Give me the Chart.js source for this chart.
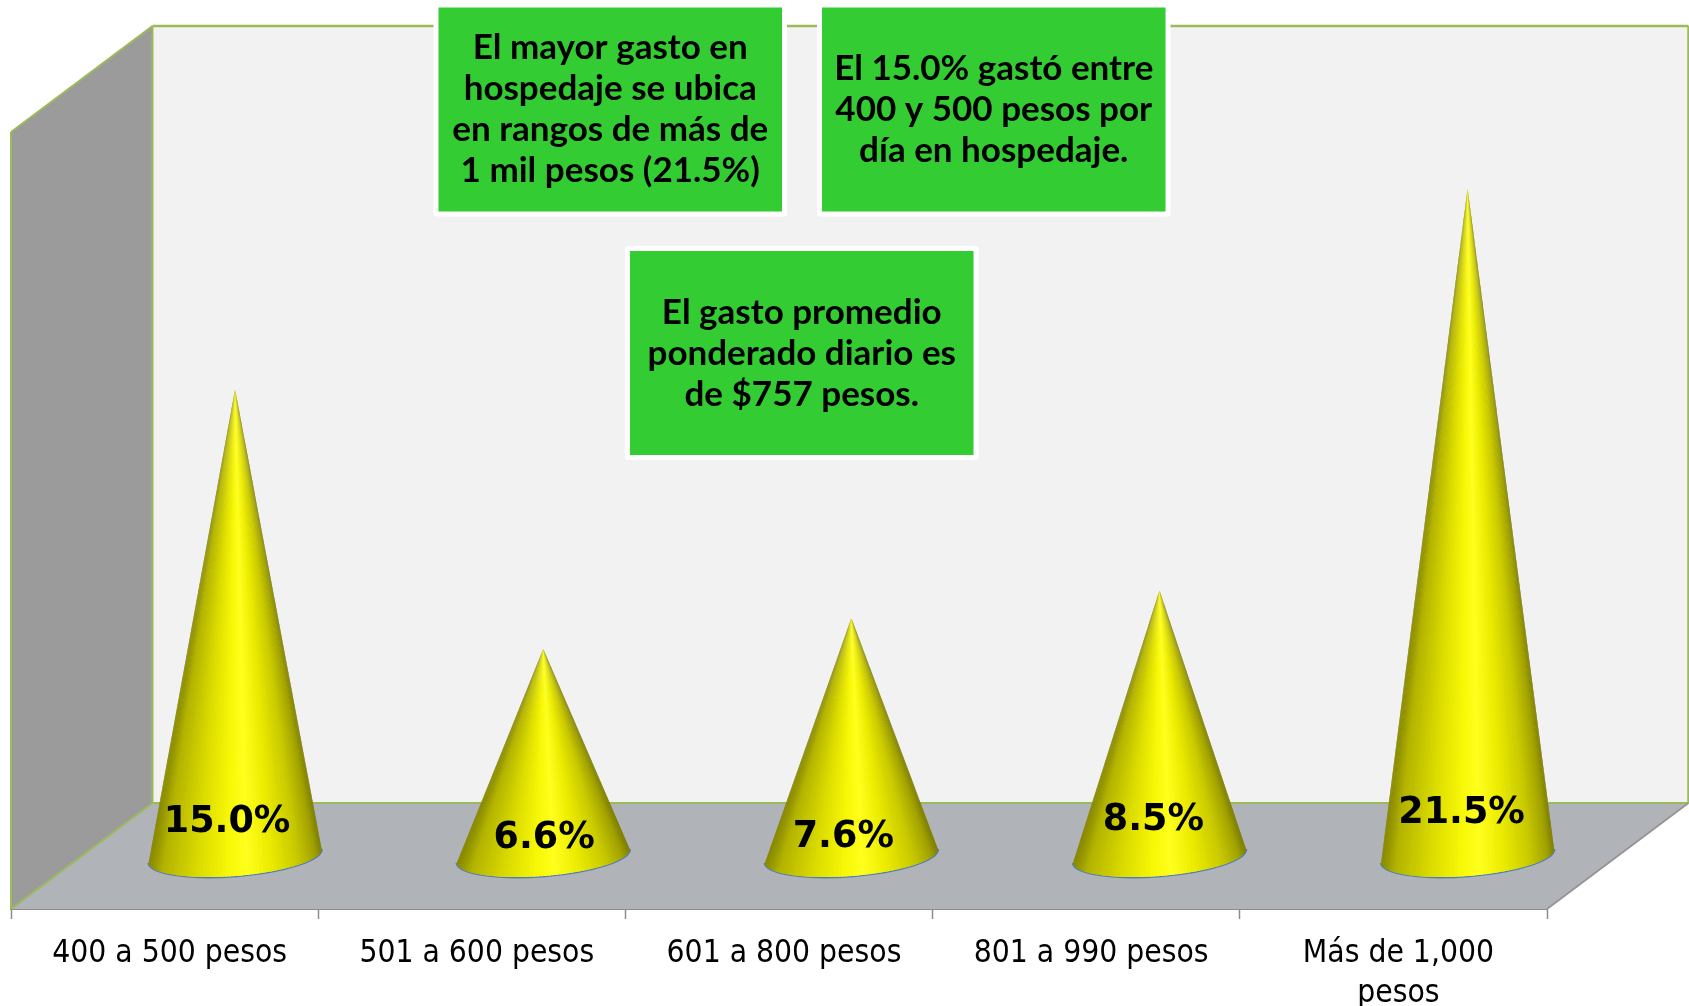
<!DOCTYPE html>
<html lang="es">

<head>
  <meta charset="UTF-8">
  <title>Gasto diario en hospedaje</title>
  <script src="https://cdn.jsdelivr.net/npm/chart.js"></script>
  <style>
    html, body { margin: 0; padding: 0; background: #fff; overflow: hidden; }
    canvas { display: block; }
  </style>
</head>

<body>
  <canvas id="conos" width="1689" height="1006"></canvas>

  <script>
    const categories = ['400 a 500 pesos', '501 a 600 pesos', '601 a 800 pesos', '801 a 990 pesos', ['Más de 1,000', 'pesos']];
    const values = [15.0, 6.6, 7.6, 8.5, 21.5];
    const notes = [
      ['El mayor gasto en', 'hospedaje se ubica', 'en rangos de más de', '1 mil pesos (21.5%)'],
      ['El 15.0% gastó entre', '400 y 500 pesos por', 'día en hospedaje.'],
      ['El gasto promedio', 'ponderado diario es', 'de $757 pesos.'],
    ];

    // 3D look: back plane is shifted from the front axis by this much
    const depthX = 141.5;
    const depthY = -106;
    const noteBoxes = [
      { x: 438.5, y: 7.5, w: 343.5, h: 204, firstLine: 47.5 },
      { x: 822, y: 7.5, w: 343.5, h: 204, firstLine: 68.5 },
      { x: 630, y: 251, w: 343.5, h: 204, firstLine: 313 },
    ];
    // data labels do not sit at a fixed place on the cones
    const labelShift = [[-8, -33], [1, -17], [-8, -18], [-6, -35], [-6, -42]];

    // cones sit mid depth, with a touch of perspective towards the right
    const coneX = (x) => 70 + x * 1.003;

    // shading across the cone, left edge to right edge
    const shade = [
      [0, [135, 135, 0]], [0.08, [180, 180, 0]], [0.28, [220, 220, 0]], [0.46, [248, 248, 8]],
      [0.56, [255, 255, 30]], [0.7, [235, 235, 0]], [0.86, [200, 200, 0]], [0.96, [160, 160, 0]], [1, [125, 125, 0]],
    ];

    function shadeAt(u) {
      for (let i = 1; i < shade.length; i++) {
        if (u <= shade[i][0]) {
          const a = shade[i - 1], b = shade[i];
          const k = (u - a[0]) / (b[0] - a[0]);
          const c = a[1].map((v, n) => Math.round(v + (b[1][n] - v) * k));
          return `rgb(${c[0]},${c[1]},${c[2]})`;
        }
      }
      return 'rgb(125,125,0)';
    }

    class ConeElement extends Chart.BarElement {
      draw(ctx) {
        const props = this.getProps(['x', 'y', 'base', 'width']);
        const cx = coneX(props.x);
        const cy = props.base + depthY / 2;
        // the tip fades out when it gets thin, so start it a little higher
        const topY = props.y + depthY / 2 - 3;
        const a = props.width / 2;
        const b = 20;
        const tilt = -0.08;
        const point = (t) => [
          cx + a * Math.cos(t) * Math.cos(tilt) - b * Math.sin(t) * Math.sin(tilt),
          cy + a * Math.cos(t) * Math.sin(tilt) + b * Math.sin(t) * Math.cos(tilt),
        ];

        ctx.save();
        // blue rim under the cone
        ctx.beginPath();
        ctx.ellipse(cx, cy, a + 0.5, b + 0.5, tilt, 0, Math.PI);
        ctx.strokeStyle = '#4f7fb5';
        ctx.lineWidth = 1.5;
        ctx.stroke();

        // cone body as thin slices running up to the tip
        const slices = 70;
        for (let i = 0; i < slices; i++) {
          const t0 = Math.PI - (i / slices) * Math.PI;
          const t1 = Math.PI - ((i + 1.6) / slices) * Math.PI;
          const p0 = point(t0);
          const p1 = point(Math.max(t1, 0));
          const u = (1 - Math.cos((i + 0.5) / slices * Math.PI)) / 2;
          ctx.beginPath();
          ctx.moveTo(cx, topY);
          ctx.lineTo(p0[0], p0[1]);
          ctx.lineTo(p1[0], p1[1]);
          ctx.closePath();
          ctx.fillStyle = shadeAt(u);
          ctx.fill();
        }
        ctx.restore();
      }
    }
    ConeElement.id = 'cone';
    ConeElement.defaults = Chart.BarElement.defaults;

    class ConeController extends Chart.BarController {}
    ConeController.id = 'cone';
    ConeController.defaults = { ...Chart.BarController.defaults, dataElementType: 'cone' };
    ConeController.overrides = Chart.BarController.overrides;

    Chart.register(ConeController, ConeElement);

    const walls = {
      id: 'walls',
      beforeDatasetsDraw(chart) {
        const { ctx, chartArea: { left, right, top, bottom } } = chart;
        const green = '#9bbb59';
        const poly = (pts, fill) => {
          ctx.beginPath();
          pts.forEach((p, i) => (i ? ctx.lineTo(p[0], p[1]) : ctx.moveTo(p[0], p[1])));
          ctx.closePath();
          ctx.fillStyle = fill;
          ctx.fill();
        };
        const line = (x0, y0, x1, y1, color, width) => {
          ctx.beginPath();
          ctx.moveTo(x0, y0);
          ctx.lineTo(x1, y1);
          ctx.strokeStyle = color;
          ctx.lineWidth = width;
          ctx.stroke();
        };
        const bx = left + depthX, bt = top + depthY, bb = bottom + depthY, br = right + depthX;

        ctx.save();
        poly([[bx, bt], [br, bt], [br, bb], [bx, bb]], '#f2f2f2');
        poly([[left, top], [bx, bt], [bx, bb], [left, bottom]], '#9b9b9b');
        poly([[left, bottom], [bx, bb], [br, bb], [right, bottom]], '#b0b3b8');

        line(bx, bt, br, bt, green, 2.5);
        line(br, bt, br, bb, green, 2.5);
        line(bx, bb, br, bb, green, 2);
        line(bx, bt, bx, bb, green, 2);
        line(left, top, bx, bt, green, 2);
        line(left, top, left, bottom, green, 2);
        line(left, bottom, bx, bb, green, 2);
        line(right, bottom, br, bb, '#969696', 2);
        ctx.restore();
      },
    };

    const overlays = {
      id: 'overlays',
      afterDraw(chart) {
        const { ctx } = chart;
        const meta = chart.getDatasetMeta(0);

        ctx.save();
        ctx.textAlign = 'center';
        ctx.textBaseline = 'middle';
        ctx.fillStyle = '#000';

        ctx.font = 'bold 36.5px "DejaVu Sans"';
        meta.data.forEach((bar, i) => {
          const text = values[i].toFixed(1) + '%';
          ctx.fillText(text, coneX(bar.x) + labelShift[i][0], bar.base + depthY / 2 + labelShift[i][1]);
        });

        noteBoxes.forEach((box, i) => {
          ctx.fillStyle = '#fff';
          ctx.beginPath();
          ctx.roundRect(box.x - 5, box.y - 5, box.w + 10, box.h + 10, 3);
          ctx.fill();
          ctx.fillStyle = '#33cc33';
          ctx.fillRect(box.x, box.y, box.w, box.h);
          ctx.fillStyle = '#000';
          ctx.font = 'bold 35px Lato';
          notes[i].forEach((text, n) => {
            ctx.fillText(text, box.x + box.w / 2, box.firstLine + n * 41);
          });
        });
        ctx.restore();
      },
    };

    new Chart(document.getElementById('conos'), {
      type: 'cone',
      data: {
        labels: categories,
        datasets: [{
          data: values,
          barPercentage: 0.565,
          categoryPercentage: 1,
          clip: false,
        }],
      },
      plugins: [walls, overlays],
      options: {
        responsive: false,
        animation: false,
        layout: { padding: { left: 11, right: 142, top: 132, bottom: 0 } },
        plugins: { legend: { display: false }, tooltip: { enabled: false } },
        scales: {
          x: {
            type: 'category',
            offset: true,
            afterFit: (scale) => { scale.height = 97; },
            border: { color: '#8c8c8c', width: 2 },
            grid: { offset: true, drawOnChartArea: false, tickLength: 10, tickColor: '#8c8c8c', tickWidth: 1.5 },
            ticks: {
              color: '#000',
              padding: 15,
              labelOffset: 5,
              maxRotation: 0,
              autoSkip: false,
              font: { family: '"DejaVu Sans Condensed", "Noto Sans"', size: 31.5, lineHeight: 1.27 },
            },
          },
          y: {
            display: false,
            min: 0,
            max: 25.15,
          },
        },
      },
    });
  </script>
</body>

</html>
